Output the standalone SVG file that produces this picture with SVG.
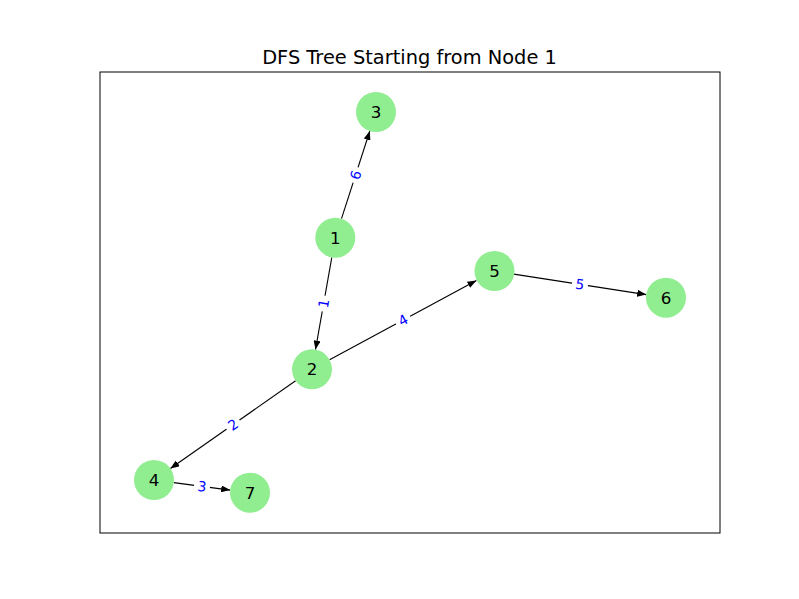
<svg xmlns="http://www.w3.org/2000/svg" width="799" height="599" viewBox="0 0 799 599">
<style>
.node circle{fill:#90ee90;stroke:none}
.node text{font-family:"DejaVu Sans",sans-serif;font-size:16.7px;fill:#000;text-anchor:middle;dominant-baseline:central}
.edge{stroke:#000;stroke-width:1.1;fill:none;marker-end:url(#arr)}
.elab rect{fill:#fff}
.elab text{font-family:"DejaVu Sans",sans-serif;font-size:13.9px;fill:#0000ff;text-anchor:middle;dominant-baseline:central}
</style>
<defs>
<marker id="arr" markerUnits="userSpaceOnUse" markerWidth="9" markerHeight="7" viewBox="0 0 9 7" refX="9" refY="3.5" orient="auto">
<path d="M0,0 L9,3.5 L0,7 z" fill="#000"/>
</marker>
</defs>
<rect x="0" y="0" width="799" height="599" fill="#fff"/>
<rect x="100" y="72" width="620" height="461" fill="none" stroke="#000" stroke-width="1"/>
<text x="409.5" y="64" font-family="DejaVu Sans, sans-serif" font-size="19.4" text-anchor="middle">DFS Tree Starting from Node 1</text>
<g id="edges">
<path class="edge" d="M341.5,218.7 L369.8,131"/>
<path class="edge" d="M331.8,257.4 L315.5,349.6"/>
<path class="edge" d="M329.6,359.8 L476.4,280.5"/>
<path class="edge" d="M295.6,380.8 L170.4,468.5"/>
<path class="edge" d="M173.8,482.6 L230.2,490.1"/>
<path class="edge" d="M513.8,274.1 L646.2,294.6"/>
<g class="elab" transform="translate(355.5,175) rotate(-72)"><rect x="-8" y="-9" width="16" height="18"/><text x="0" y="0">6</text></g>
<g class="elab" transform="translate(323.5,303.5) rotate(-80)"><rect x="-8" y="-9" width="16" height="18"/><text x="0" y="0">1</text></g>
<g class="elab" transform="translate(403,320) rotate(-28.3)"><rect x="-8" y="-9" width="16" height="18"/><text x="0" y="0">4</text></g>
<g class="elab" transform="translate(233,424.6) rotate(-35)"><rect x="-8" y="-9" width="16" height="18"/><text x="0" y="0">2</text></g>
<g class="elab" transform="translate(202,486.4) rotate(7.5)"><rect x="-8" y="-9" width="16" height="18"/><text x="0" y="0">3</text></g>
<g class="elab" transform="translate(580,284.3) rotate(8.8)"><rect x="-8" y="-9" width="16" height="18"/><text x="0" y="0">5</text></g>
</g>
<g id="node1" class="node"><circle cx="335.3" cy="237.7" r="20"/><text x="335.3" y="237.7">1</text></g>
<g id="node2" class="node"><circle cx="312" cy="369.3" r="20"/><text x="312" y="369.3">2</text></g>
<g id="node3" class="node"><circle cx="376" cy="112" r="20"/><text x="376" y="112">3</text></g>
<g id="node4" class="node"><circle cx="154" cy="480" r="20"/><text x="154" y="480">4</text></g>
<g id="node5" class="node"><circle cx="494.5" cy="271" r="20"/><text x="494.5" y="271">5</text></g>
<g id="node6" class="node"><circle cx="666" cy="297.7" r="20"/><text x="666" y="297.7">6</text></g>
<g id="node7" class="node"><circle cx="250" cy="492.7" r="20"/><text x="250" y="492.7">7</text></g>
</svg>
